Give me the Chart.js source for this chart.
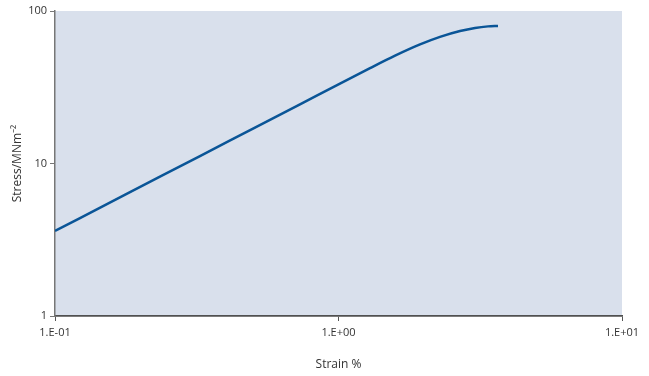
<!DOCTYPE html>
<html>
<head>
<meta charset="utf-8">
<script src="https://cdn.jsdelivr.net/npm/chart.js@4/dist/chart.umd.min.js"></script>
<style>
  html, body { margin: 0; padding: 0; background: #fff; }
  #wrap { width: 649px; height: 376px; }
</style>
</head>
<body>
<div id="wrap"><canvas id="myChart"></canvas></div>
<script>
const strain = [0.1, 0.1839, 0.3246, 0.5034, 0.7314, 1.012, 1.292, 1.583, 1.939, 2.280, 2.683, 3.031, 3.368, 3.653];
const stress = [3.609, 6.481, 11.193, 17.06, 24.43, 33.39, 42.20, 50.95, 60.37, 67.66, 73.91, 77.41, 79.28, 79.86];
const xTicks = [0.1, 1, 10];
const xTickLabels = ["1.E-01", "1.E+00", "1.E+01"];
const yTicks = [1, 10, 100];
const yTickLabels = ["1", "10", "100"];

const plotBg = {
    id: "plotBg",
    beforeDraw(chart) {
        const a = chart.chartArea;
        const ctx = chart.ctx;
        ctx.save();
        ctx.fillStyle = "#d9e0ec";
        ctx.fillRect(a.left, a.top, a.right - a.left, a.bottom - a.top);
        ctx.restore();
    }
};

const font = { family: "'Open Sans', 'Noto Sans', sans-serif", size: 11 };

new Chart("myChart", {
    type: "line",
    data: {
        datasets: [{
            data: strain.map((x, i) => ({ x: x, y: stress[i] })),
            borderColor: "#0a5597",
            borderWidth: 2.5,
            pointRadius: 0,
            cubicInterpolationMode: "monotone",
            fill: false
        }]
    },
    options: {
        responsive: true,
        maintainAspectRatio: false,
        animation: false,
        layout: { padding: { top: 11, right: 27, left: 0, bottom: 0 } },
        plugins: {
            legend: { display: false },
            tooltip: { enabled: false }
        },
        scales: {
            x: {
                type: "logarithmic",
                min: 0.1,
                max: 10,
                afterBuildTicks: s => { s.ticks = xTicks.map(v => ({ value: v })); },
                afterFit: s => { s.height = 60; },
                ticks: {
                    autoSkip: false,
                    maxRotation: 0,
                    padding: 5,
                    color: "#333",
                    font: font,
                    callback: (v) => xTickLabels[xTicks.indexOf(v)]
                },
                grid: { drawOnChartArea: false, tickLength: 5, color: "#555" },
                border: { color: "#505050", width: 1.8 },
                title: {
                    display: true,
                    text: "Strain %",
                    color: "#333",
                    font: { family: font.family, size: 12 },
                    padding: { top: 4, bottom: 4 }
                }
            },
            y: {
                type: "logarithmic",
                min: 1,
                max: 100,
                afterBuildTicks: s => { s.ticks = yTicks.map(v => ({ value: v })); },
                afterFit: s => { s.width = 55; },
                ticks: {
                    autoSkip: false,
                    padding: 3,
                    color: "#333",
                    font: font,
                    callback: (v) => yTickLabels[yTicks.indexOf(v)]
                },
                grid: { drawOnChartArea: false, tickLength: 5, color: "#777" },
                border: { color: "#777", width: 1.5 },
                title: {
                    display: true,
                    text: "Stress/MNm\u207B\u00B2",
                    color: "#333",
                    font: { family: font.family, size: 12 },
                    padding: { top: 10, bottom: 4 }
                }
            }
        }
    },
    plugins: [plotBg]
});
</script>
</body>
</html>
